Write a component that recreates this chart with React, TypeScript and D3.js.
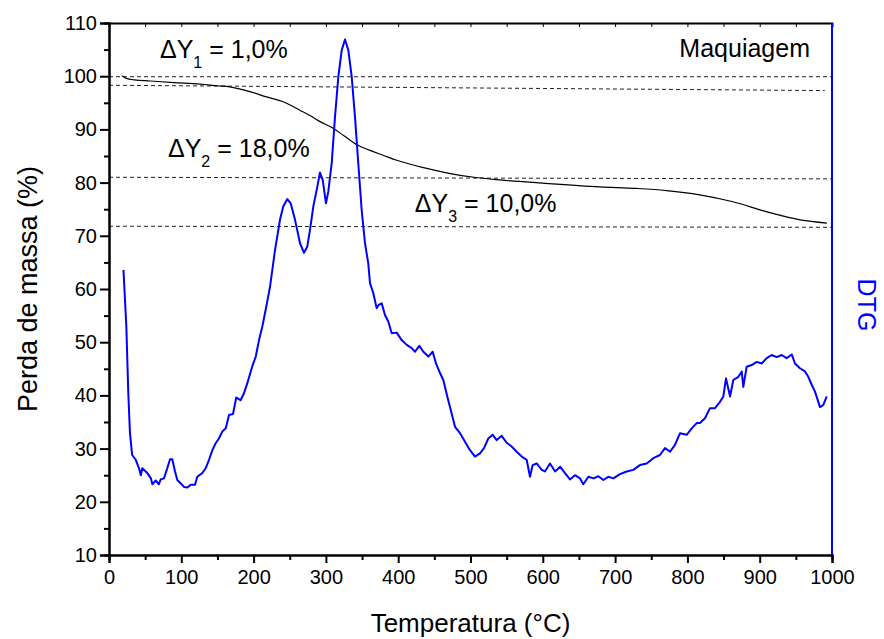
import React, { useEffect, useRef } from 'react';
import * as d3 from 'd3';

// TG curve (black), temperature in °C vs mass %
const tgTemp = [18, 24, 35, 57, 90, 126, 150, 167, 195, 218, 241, 264, 278, 290, 310, 325, 343, 360, 380, 398, 435, 472, 505, 541, 600, 679, 730, 771, 817, 863, 910, 956, 993];
const tgMass = [100.1, 99.6, 99.3, 99.1, 98.8, 98.5, 98.2, 98.0, 97.1, 96.1, 95.2, 93.6, 92.6, 91.6, 90.2, 88.8, 87.1, 86.1, 85.1, 84.2, 82.8, 81.7, 81.0, 80.5, 79.9, 79.2, 78.9, 78.5, 77.7, 76.4, 74.5, 73.0, 72.4];

// DTG curve (blue), drawn on the left-axis scale
const dtgTemp = [20, 24, 26.7, 29, 32, 37, 41.5, 44, 46, 53, 58, 60, 64.6, 69, 71.5, 76, 80.6, 84.4, 87.6, 91.3, 94.5, 99, 103.7, 108.3, 113, 119, 122, 129, 133.7, 138.3, 143, 147.5, 152, 156.7, 161.4, 166, 171.5, 176, 182, 186.7, 191.3, 198, 203, 207.5, 212, 216.7, 222.7, 229.6, 236.5, 241, 246.6, 251.3, 257.3, 264.2, 269.7, 274.3, 278, 282.6, 288.1, 291.8, 295.6, 300.1, 303.3, 308, 312.6, 317.2, 321.9, 326.4, 331, 335.7, 340.2, 344.8, 349.5, 354.1, 358.6, 361, 365.6, 370.2, 373, 377.2, 381.7, 386.3, 391, 397.9, 404.8, 411.8, 418.7, 423.2, 429.2, 434.8, 441.7, 447.7, 452.3, 457.8, 462.4, 467.9, 472.6, 478.6, 485.5, 492.4, 499.3, 506.2, 513.1, 518.7, 524.6, 530.7, 536.2, 543.1, 550, 556.9, 563.9, 570.8, 577.7, 582.3, 586, 591.5, 598.5, 603, 610, 617, 624, 630.7, 637.6, 644.5, 651.5, 656, 663, 670, 676.8, 683.7, 690.6, 697.5, 706.8, 716, 725.2, 734.4, 743.7, 752.9, 762, 769, 776, 782.8, 789.8, 799, 806, 812.9, 817.4, 824.3, 831.3, 838.2, 845.1, 849.7, 853.4, 859, 863.5, 870.5, 875.1, 877.3, 882, 889, 895.9, 902.8, 909.7, 916.6, 923.5, 930.4, 937.3, 944.3, 948.8, 955.7, 962.7, 967.2, 971.9, 976.5, 983.4, 988, 992.7];
const dtgValue = [63.6, 52.9, 40.4, 32.9, 28.8, 27.9, 26.3, 25.0, 26.3, 25.4, 24.4, 23.3, 24.0, 23.3, 24.2, 24.4, 26.3, 28.0, 28.0, 25.7, 24.1, 23.5, 22.8, 22.7, 23.2, 23.2, 24.7, 25.4, 26.3, 27.9, 29.7, 31.0, 31.9, 33.2, 33.8, 36.3, 36.5, 39.6, 39.1, 40.4, 42.3, 45.4, 47.3, 50.4, 52.9, 56.1, 60.4, 67.3, 73.0, 75.5, 76.9, 76.1, 73.0, 68.6, 66.8, 68.0, 71.1, 75.5, 79.2, 81.9, 80.5, 76.1, 78.3, 83.6, 92.4, 99.9, 104.9, 106.9, 104.9, 99.9, 92.4, 83.6, 74.8, 68.6, 64.8, 61.1, 59.2, 56.4, 57.0, 57.3, 55.1, 53.9, 51.7, 51.8, 50.4, 49.5, 48.9, 48.2, 49.3, 48.2, 47.3, 48.2, 46.0, 44.2, 42.9, 39.8, 37.3, 34.1, 32.9, 31.3, 29.7, 28.5, 29.1, 30.1, 31.9, 32.6, 31.6, 32.4, 31.1, 30.4, 29.4, 28.5, 27.9, 24.7, 26.9, 27.2, 26.0, 25.7, 27.2, 25.7, 26.6, 25.4, 24.2, 25.0, 24.4, 23.3, 24.7, 24.4, 24.8, 24.1, 24.7, 24.4, 25.2, 25.7, 26.0, 26.9, 27.2, 28.2, 28.8, 30.1, 29.4, 30.7, 32.9, 32.6, 33.8, 34.8, 34.8, 35.7, 37.6, 37.6, 38.8, 39.8, 43.2, 39.8, 42.9, 43.5, 44.5, 41.6, 45.4, 45.7, 46.3, 46.0, 47.0, 47.6, 47.2, 47.6, 47.0, 47.7, 46.0, 45.1, 44.5, 43.5, 42.0, 40.7, 37.8, 38.2, 39.8];

// dashed step lines: [t1, y1, t2, y2]
const stepLines = [
  [0, 99.9, 1000, 99.9],
  [0, 98.3, 990, 97.3],
  [0, 81.0, 1000, 80.7],
  [0, 71.8, 1000, 71.6],
];

// mass-loss labels
const stepLabels = [
  { sub: '1', value: ' = 1,0%', t: 70.5, m: 103.4 },
  { sub: '2', value: ' = 18,0%', t: 81.6, m: 84.8 },
  { sub: '3', value: ' = 10,0%', t: 423, m: 74.5 },
];

const xTicks = d3.range(0, 1001, 100);
const yTicks = d3.range(10, 111, 10);

const FONT = '"Liberation Sans", Arial, sans-serif';

const App = () => {
  const svgRef = useRef<SVGSVGElement>(null);

  useEffect(() => {
    const width = 884;
    const height = 639;
    const margin = { top: 23, right: 52, bottom: 84, left: 109 };
    const svg = d3.select(svgRef.current);
    svg.selectAll('*').remove();
    svg.attr('width', width).attr('height', height);

    const x = d3.scaleLinear().domain([0, 1000]).range([margin.left, width - margin.right]);
    const y = d3.scaleLinear().domain([10, 110]).range([height - margin.bottom, margin.top]);

    // dashed step lines
    svg.append('g')
      .selectAll('line')
      .data(stepLines)
      .enter()
      .append('line')
      .attr('x1', d => x(d[0]))
      .attr('y1', d => y(d[1]))
      .attr('x2', d => x(d[2]))
      .attr('y2', d => y(d[3]))
      .attr('stroke', '#222')
      .attr('stroke-width', 1)
      .attr('stroke-dasharray', '4,3');

    // TG
    const tg = tgTemp.map((t, i) => [t, tgMass[i]]);
    svg.append('path')
      .attr('d', d3.line().x(d => x(d[0])).y(d => y(d[1])).curve(d3.curveMonotoneX)(tg as [number, number][]))
      .attr('fill', 'none')
      .attr('stroke', '#000')
      .attr('stroke-width', 1.2);

    // DTG
    const dtg = dtgTemp.map((t, i) => [t, dtgValue[i]]);
    svg.append('path')
      .attr('d', d3.line().x(d => x(d[0])).y(d => y(d[1]))(dtg as [number, number][]))
      .attr('fill', 'none')
      .attr('stroke', '#0000ff')
      .attr('stroke-width', 2)
      .attr('stroke-linejoin', 'round');

    // top axis (inner ticks)
    svg.append('g')
      .attr('transform', `translate(0,${margin.top})`)
      .call(d3.axisTop(x).tickValues(d3.range(0, 1001, 50)).tickSize(-4).tickFormat(() => ''))
      .call(g => g.select('.domain').attr('stroke-width', 2));

    // right axis (blue)
    svg.append('line')
      .attr('x1', x(1000)).attr('x2', x(1000))
      .attr('y1', y(110)).attr('y2', y(10))
      .attr('stroke', '#0000ff')
      .attr('stroke-width', 2);

    // bottom axis
    const bottom = svg.append('g').attr('transform', `translate(0,${height - margin.bottom})`);
    bottom.call(d3.axisBottom(x).tickValues(d3.range(50, 1000, 100)).tickSize(5).tickFormat(() => ''));
    bottom.append('g').call(d3.axisBottom(x).tickValues(xTicks).tickSize(8).tickPadding(7).tickFormat(d3.format('d')));
    bottom.selectAll('.domain').attr('stroke-width', 2);
    bottom.selectAll('.tick line').attr('stroke-width', 2);
    bottom.selectAll('text').attr('font-size', 20).attr('font-family', FONT).attr('fill', '#000');

    // left axis
    const left = svg.append('g').attr('transform', `translate(${margin.left},0)`);
    left.call(d3.axisLeft(y).tickValues(d3.range(15, 110, 10)).tickSize(5).tickFormat(() => ''));
    left.append('g').call(d3.axisLeft(y).tickValues(yTicks).tickSize(9).tickPadding(3).tickFormat(d3.format('d')));
    left.selectAll('.domain').attr('stroke-width', 2);
    left.selectAll('.tick line').attr('stroke-width', 2);
    left.selectAll('text').attr('font-size', 20).attr('font-family', FONT).attr('fill', '#000');

    // axis titles
    svg.append('text')
      .attr('x', (x(0) + x(1000)) / 2)
      .attr('y', 632)
      .attr('text-anchor', 'middle')
      .attr('font-family', FONT)
      .attr('font-size', 26)
      .text('Temperatura (°C)');

    svg.append('text')
      .attr('transform', `translate(37,${(y(10) + y(110)) / 2}) rotate(-90)`)
      .attr('text-anchor', 'middle')
      .attr('font-family', FONT)
      .attr('font-size', 27)
      .text('Perda de massa (%)');

    svg.append('text')
      .attr('transform', `translate(858,${(y(10) + y(110)) / 2 + 16}) rotate(90)`)
      .attr('text-anchor', 'middle')
      .attr('font-family', FONT)
      .attr('font-size', 25)
      .attr('fill', '#0000ff')
      .text('DTG');

    svg.append('text')
      .attr('x', 810)
      .attr('y', 57)
      .attr('text-anchor', 'end')
      .attr('font-family', FONT)
      .attr('font-size', 25)
      .text('Maquiagem');

    // ΔY labels
    const lab = svg.append('g')
      .selectAll('text')
      .data(stepLabels)
      .enter()
      .append('text')
      .attr('x', d => x(d.t))
      .attr('y', d => y(d.m))
      .attr('font-family', FONT)
      .attr('font-size', 25);
    lab.append('tspan').text('ΔY');
    lab.append('tspan').attr('font-size', 16).attr('dy', 10).text(d => d.sub);
    lab.append('tspan').attr('dy', -10).text(d => d.value);
  }, []);

  return (
    <div>
      <svg ref={svgRef} style={{ position: 'absolute', left: 0, top: 0, display: 'block' }}></svg>
    </div>
  );
};

export default App;
